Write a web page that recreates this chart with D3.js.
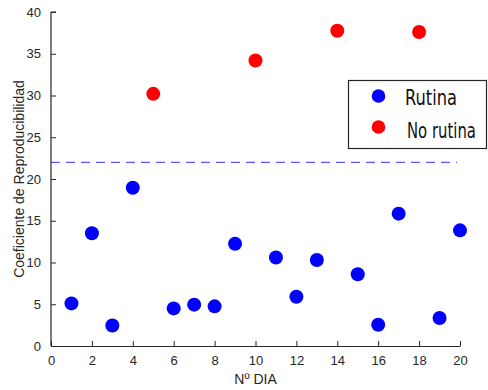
<!DOCTYPE html>
<html>
<head>
<meta charset="utf-8">
<script src="https://cdn.jsdelivr.net/npm/d3@7"></script>
<style>
  html, body { margin: 0; padding: 0; background: #fff; }
  svg { display: block; }
</style>
</head>
<body>
<svg id="chart" width="488" height="390"></svg>
<script>
// Coeficiente de reproducibilidad por día
const rutinaDays   = [1, 2, 3, 4, 6, 7, 8, 9, 11, 12, 13, 15, 16, 17, 19, 20];
const rutinaValues = [5.1, 13.5, 2.45, 18.95, 4.5, 4.95, 4.75, 12.25, 10.6, 5.9, 10.3, 8.6, 2.55, 15.85, 3.35, 13.85];
const noRutinaDays   = [5, 10, 14, 18];
const noRutinaValues = [30.2, 34.2, 37.75, 37.6];
const threshold = 22;
const xTicks = [0, 2, 4, 6, 8, 10, 12, 14, 16, 18, 20];
const yTicks = [0, 5, 10, 15, 20, 25, 30, 35, 40];
const legendLabels = ["Rutina", "No rutina"];
const legendColors = ["#0000ff", "#ff0000"];

const svg = d3.select("#chart");
const margin = { left: 51, right: 28, top: 12, bottom: 44 };
const W = 488, H = 390;

const x = d3.scaleLinear().domain([0, 20]).range([margin.left, W - margin.right]);
const y = d3.scaleLinear().domain([0, 40]).range([H - margin.bottom, margin.top]);

const axisColor = "#262626";
const tickFont = "Liberation Sans, Arial, sans-serif";

// Threshold line
svg.append("line")
  .attr("x1", x(0)).attr("x2", x(19.85))
  .attr("y1", y(threshold)).attr("y2", y(threshold))
  .attr("stroke", "#5a5aff").attr("stroke-width", 1.3)
  .attr("stroke-dasharray", "9,6");

// Axes (ticks pointing inward)
const xAxis = d3.axisBottom(x).tickValues(xTicks).tickSizeInner(-5).tickSizeOuter(0).tickPadding(10);
const yAxis = d3.axisLeft(y).tickValues(yTicks).tickSizeInner(-5).tickSizeOuter(0).tickPadding(10);

const gx = svg.append("g").attr("transform", `translate(0,${y(0)})`).call(xAxis);
const gy = svg.append("g").attr("transform", `translate(${x(0)},0)`).call(yAxis);

[gx, gy].forEach(g => {
  g.select(".domain").attr("stroke", axisColor).attr("stroke-width", 1.2);
  g.selectAll(".tick line").attr("stroke", axisColor).attr("stroke-width", 1);
  g.selectAll(".tick text").attr("fill", axisColor)
    .style("font-family", tickFont).style("font-size", "13px");
});
gy.select(".domain").attr("d", `M0,${y(40)}V${y(0)}`);
gy.append("line").attr("x1", 0).attr("x2", 5).attr("y1", y(40)).attr("y2", y(40)).attr("stroke", axisColor);

// Axis titles
svg.append("text")
  .attr("x", x(10)).attr("y", 384)
  .attr("text-anchor", "middle")
  .attr("fill", axisColor)
  .style("font-family", tickFont).style("font-size", "14px")
  .text("Nº DIA");

svg.append("text")
  .attr("transform", `translate(24,${(y(0) + y(40)) / 2}) rotate(-90)`)
  .attr("text-anchor", "middle")
  .attr("fill", axisColor)
  .style("font-family", tickFont).style("font-size", "14px")
  .text("Coeficiente de Reproducibilidad");

// Points
const r = 7;
svg.append("g").selectAll("circle")
  .data(rutinaDays.map((d, i) => [d, rutinaValues[i]]))
  .join("circle")
  .attr("cx", d => x(d[0])).attr("cy", d => y(d[1])).attr("r", r)
  .attr("fill", legendColors[0]);

svg.append("g").selectAll("circle")
  .data(noRutinaDays.map((d, i) => [d, noRutinaValues[i]]))
  .join("circle")
  .attr("cx", d => x(d[0])).attr("cy", d => y(d[1])).attr("r", r)
  .attr("fill", legendColors[1]);

// Legend (narrow lettering: glyphs squeezed horizontally to fixed widths)
const lg = svg.append("g");
lg.append("rect")
  .attr("x", 348.5).attr("y", 80.5).attr("width", 138).attr("height", 68)
  .attr("fill", "#fff").attr("stroke", axisColor).attr("stroke-width", 1.2);
const rowsY = [96, 127];
const textX = [405, 407];
const textY = [105, 137.5];
const textW = [52, 69];
legendLabels.forEach((lab, i) => {
  lg.append("circle").attr("cx", 378.5).attr("cy", rowsY[i]).attr("r", 6.8).attr("fill", legendColors[i]);
  const t = lg.append("text")
    .attr("x", 0).attr("y", 0)
    .attr("fill", "#111")
    .style("font-family", "DejaVu Sans, sans-serif")
    .style("font-size", "22px")
    .text(lab);
  const k = textW[i] / t.node().getComputedTextLength();
  t.attr("transform", `translate(${textX[i]},${textY[i]}) scale(${k},1)`);
});
</script>
</body>
</html>
